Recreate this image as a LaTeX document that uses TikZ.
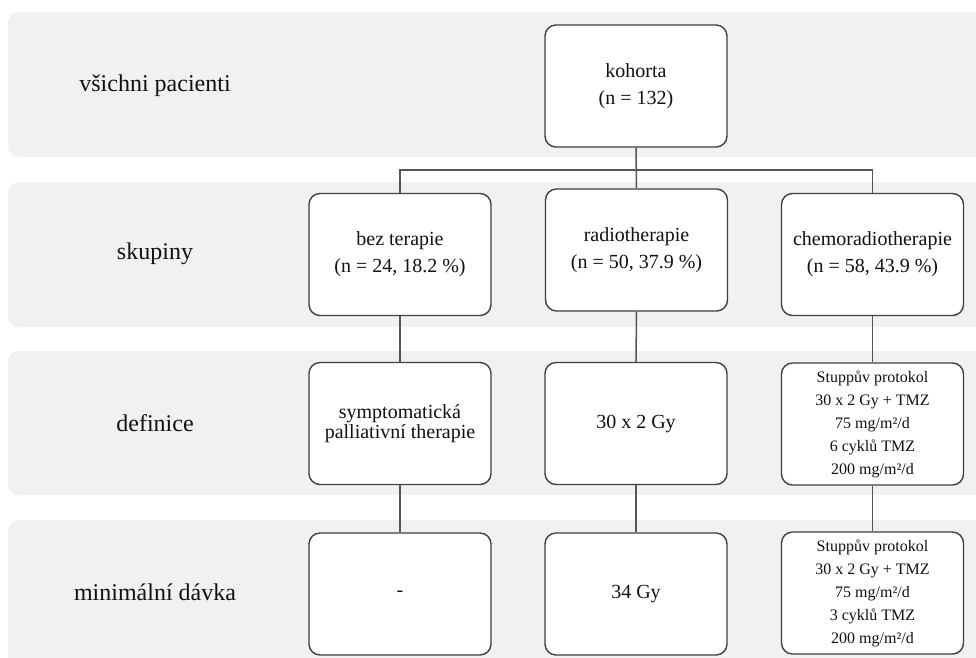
\documentclass[tikz,border=0pt]{standalone}
\usepackage{fontspec}
\setmainfont{Liberation Serif}
\definecolor{bandgray}{HTML}{F1F1F1}
\definecolor{boxline}{HTML}{404040}
\definecolor{conn}{HTML}{555555}
\definecolor{txt}{HTML}{111111}
\tikzset{
  band/.style={fill=bandgray, draw=none, rounded corners=11pt},
  rowlabel/.style={text=txt, font=\fontsize{24}{28}\selectfont, inner sep=0pt},
  box/.style={draw=boxline, line width=1.4pt, fill=white, rounded corners=11pt,
    minimum width=182pt, minimum height=122pt, inner sep=2pt, align=center, text=txt,
    font=\fontsize{20}{27}\selectfont},
  tightbox/.style={box, font=\fontsize{20}{20}\selectfont},
  smallbox/.style={box, font=\fontsize{16}{23}\selectfont},
  link/.style={draw=conn, line width=1.5pt}
}
\begin{document}
\begin{tikzpicture}[x=1pt, y=-1pt]
\useasboundingbox (0,0) rectangle (976,657);
\clip (0,0) rectangle (976,657);
% bands
\path[band] (8,12) rectangle (990,157);
\path[band] (8,182) rectangle (990,327);
\path[band] (8,351) rectangle (990,495);
\path[band] (8,520) rectangle (990,668);
% row labels
\node[rowlabel] (l1) at (155,86) {všichni pacienti};
\node[rowlabel] (l2) at (155,254) {skupiny};
\node[rowlabel] (l3) at (155,423) {definice};
\node[rowlabel] (l4) at (155,592) {minimální dávka};
% boxes
\node[box] (koh) at (636,86) {kohorta\\(n = 132)};
\node[box] (bez) at (400,254.5) {bez terapie\\(n = 24, 18.2 \%)};
\node[box] (rad) at (636.5,250) {radiotherapie\\(n = 50, 37.9 \%)};
\node[box] (che) at (872.5,254.5) {chemoradiotherapie\\(n = 58, 43.9 \%)};
\node[tightbox] (bezd) at (400,423.5) {symptomatická\\palliativní therapie};
\node[box] (radd) at (636,423.5) {30 x 2 Gy};
\node[smallbox] (ched) at (872.5,424) {Stuppův protokol\\30 x 2 Gy + TMZ\\75 mg/m²/d\\6 cyklů TMZ\\200 mg/m²/d};
\node[box] (bezm) at (400,594) {-};
\node[box] (radm) at (636,594) {34 Gy};
\node[smallbox] (chem) at (872.5,593) {Stuppův protokol\\30 x 2 Gy + TMZ\\75 mg/m²/d\\3 cyklů TMZ\\200 mg/m²/d};
% connectors
\coordinate (bus) at (0,170);
\draw[link] (koh.south) -- (rad.north);
\draw[link] (koh.south |- bus) -| (bez.north);
\draw[link] (koh.south |- bus) -| (che.north);
\draw[link] (bez.south) -- (bezd.north);
\draw[link] (rad.south) -- (radd.north);
\draw[link] (che.south) -- (ched.north);
\draw[link] (bezd.south) -- (bezm.north);
\draw[link] (radd.south) -- (radm.north);
\draw[link] (ched.south) -- (chem.north);
\end{tikzpicture}
\end{document}
